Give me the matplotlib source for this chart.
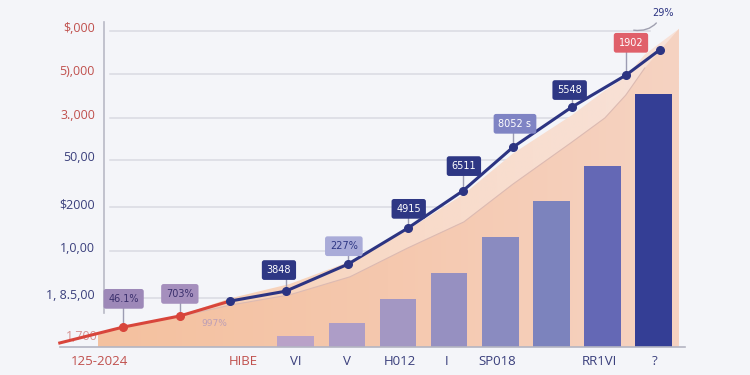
import numpy as np
import matplotlib.pyplot as plt
from matplotlib.colors import LinearSegmentedColormap

# y ticks (values in chart units) and their printed labels
ytick_vals = [1.09, 2.13, 3.11, 4.16, 5.09, 6.07, 7.02]
ytick_labels = ["1, 8.5,00", "1,0,00", "$2000", "50,00", "3.,000", "5),000", "$,000"]
ytick_colors = ["#3a3f7c"] * 4 + ["#c0504d"] * 3

# x tick labels
xtick_pos = [-3.84, -1.02, 0, 1, 2.04, 2.96, 3.94, 5.95, 7.03]
xtick_labels = ["125-2024", "HIBE", "VI", "V", "H012", "I", "SP018", "RR1VI", "?"]
xtick_colors = ["#c0504d", "#c0504d"] + ["#3a3f7c"] * 7

# bars
bar_x = [0, 1, 2, 3, 4, 5, 6, 7]
bar_h = [0.24, 0.53, 1.07, 1.64, 2.44, 3.24, 4.02, 5.62]
bar_colors = ["#b9a2c8", "#ad9dc7", "#a397c3", "#9690c1", "#8a8bc0", "#7c83bd", "#6468b5", "#343e95"]

# trend line
line_x = [-4.62, -3.39, -2.27, -1.29, -0.20, 1.02, 2.19, 3.27, 4.25, 5.40, 6.46, 7.12]
line_y = [0.09, 0.44, 0.69, 1.02, 1.24, 1.84, 2.64, 3.47, 4.44, 5.33, 6.04, 6.60]

# area behind
area_x = [-3.87, -3.39, -2.27, -1.29, -0.12, 1.06, 2.19, 3.29, 4.25, 5.40, 6.05, 6.46, 6.83, 7.50]
area_outer = [0.27, 0.45, 0.70, 1.08, 1.40, 1.90, 2.60, 3.40, 4.30, 5.15, 5.70, 6.00, 6.50, 7.07]
area_inner = [0.27, 0.45, 0.68, 0.93, 1.16, 1.56, 2.20, 2.78, 3.62, 4.55, 5.09, 5.60, 6.20, 7.07]

# callout boxes: text, box centre, index of point, face colour, text colour
labels = ["46.1%", "703%", "3848", "227%", "4915", "6511", "8052 s", "5548", "1902"]
label_x = [-3.37, -2.27, -0.33, 0.94, 2.21, 3.29, 4.29, 5.36, 6.56]
label_y = [1.07, 1.18, 1.71, 2.24, 3.07, 4.02, 4.96, 5.71, 6.76]
label_pt = [1, 2, 4, 5, 6, 7, 8, 9, 10]
label_fc = ["#9d88b8", "#a58fbd", "#2e3784", "#a9abd8", "#2e3784", "#2e3784", "#7f84c4", "#2e3784", "#e0606a"]
label_tc = ["#3a2f6c", "#3a2f6c", "white", "#2e3784", "white", "white", "white", "white", "white"]

red = "#d8453b"
navy = "#2c3482"
bg = "#f4f5f9"

fig = plt.figure(figsize=(7.5, 3.75), dpi=100, facecolor=bg)
ax = fig.add_axes([0, 0, 1, 1])
ax.set_facecolor(bg)
ax.axis("off")

# grid and axis lines
for v in ytick_vals:
    ax.plot([-3.64, 6.93], [v, v], color="#d9dae2", lw=1.1, zorder=1)
ax.plot([-3.76, -3.76], [0.76, 7.22], color="#b9bac6", lw=1.2, zorder=2)
ax.plot([-4.62, 7.61], [0, 0], color="#b4b5c2", lw=1.2, zorder=5)

for v, t, c in zip(ytick_vals, ytick_labels, ytick_colors):
    ax.text(-3.93, v + 0.05, t, ha="right", va="center", fontsize=9, color=c, family="Open Sans")
ax.text(-4.19, 0.24, "1,700", ha="center", va="center", fontsize=9, color="#c0504d", alpha=0.6,
        family="Open Sans", zorder=6)

for p, t, c in zip(xtick_pos, xtick_labels, xtick_colors):
    ax.text(p, -0.33, t, ha="center", va="center", fontsize=9.5, color=c, family="Open Sans")

# shaded area, two layers with a soft left-to-right gradient
outer_cmap = LinearSegmentedColormap.from_list("o", ["#f6caa9", "#f8dac8", "#f8e2d8"])
inner_cmap = LinearSegmentedColormap.from_list("i", ["#f4c19f", "#f5c8ae", "#f6d3c2"])
grad = np.linspace(0, 1, 256)[None, :]
for top, cm in [(area_outer, outer_cmap), (area_inner, inner_cmap)]:
    poly = ax.fill_between(area_x, 0, top, facecolor="none", lw=0)
    im = ax.imshow(grad, extent=[area_x[0], area_x[-1], 0, max(top)], aspect="auto",
                   cmap=cm, zorder=2, origin="lower")
    im.set_clip_path(poly.get_paths()[0], transform=ax.transData)
ax.plot(area_x[2:-1], area_inner[2:-1], color="#dcbab2", lw=0.8, zorder=2)

ax.bar(bar_x, bar_h, width=0.72, color=bar_colors, zorder=3)

# line
ax.plot(line_x[:4], line_y[:4], color=red, lw=2.2, zorder=6)
ax.plot(line_x[3:], line_y[3:], color=navy, lw=2.2, zorder=6)
ax.plot(line_x[1:3], line_y[1:3], "o", color=red, ms=5.5, zorder=7)
ax.plot(line_x[3:], line_y[3:], "o", color=navy, ms=5.5, zorder=7)

for t, lx, ly, i, fc, tc in zip(labels, label_x, label_y, label_pt, label_fc, label_tc):
    ax.plot([line_x[i], line_x[i]], [ly, line_y[i]], color="#9c9cb2", lw=1, zorder=5)
    ax.text(lx, ly, t, ha="center", va="center", fontsize=7, color=tc, family="DejaVu Sans",
            zorder=8, bbox=dict(boxstyle="round,pad=0.5,rounding_size=0.25", fc=fc, ec="none"))

ax.annotate("29%", xy=(6.56, 7.05), xytext=(7.18, 7.42), ha="center", va="center", fontsize=7,
            color=navy, zorder=8,
            arrowprops=dict(arrowstyle="-", color="#a0a0b0", lw=1, connectionstyle="arc3,rad=-0.4"))
ax.text(-1.6, 0.53, "997%", ha="center", va="center", fontsize=6.5, color="#a58fbd", alpha=0.7, zorder=4)

ax.set_xlim(-5.79, 8.89)
ax.set_ylim(-0.622, 7.711)

fig.savefig("out.png", dpi=100, facecolor=bg)
